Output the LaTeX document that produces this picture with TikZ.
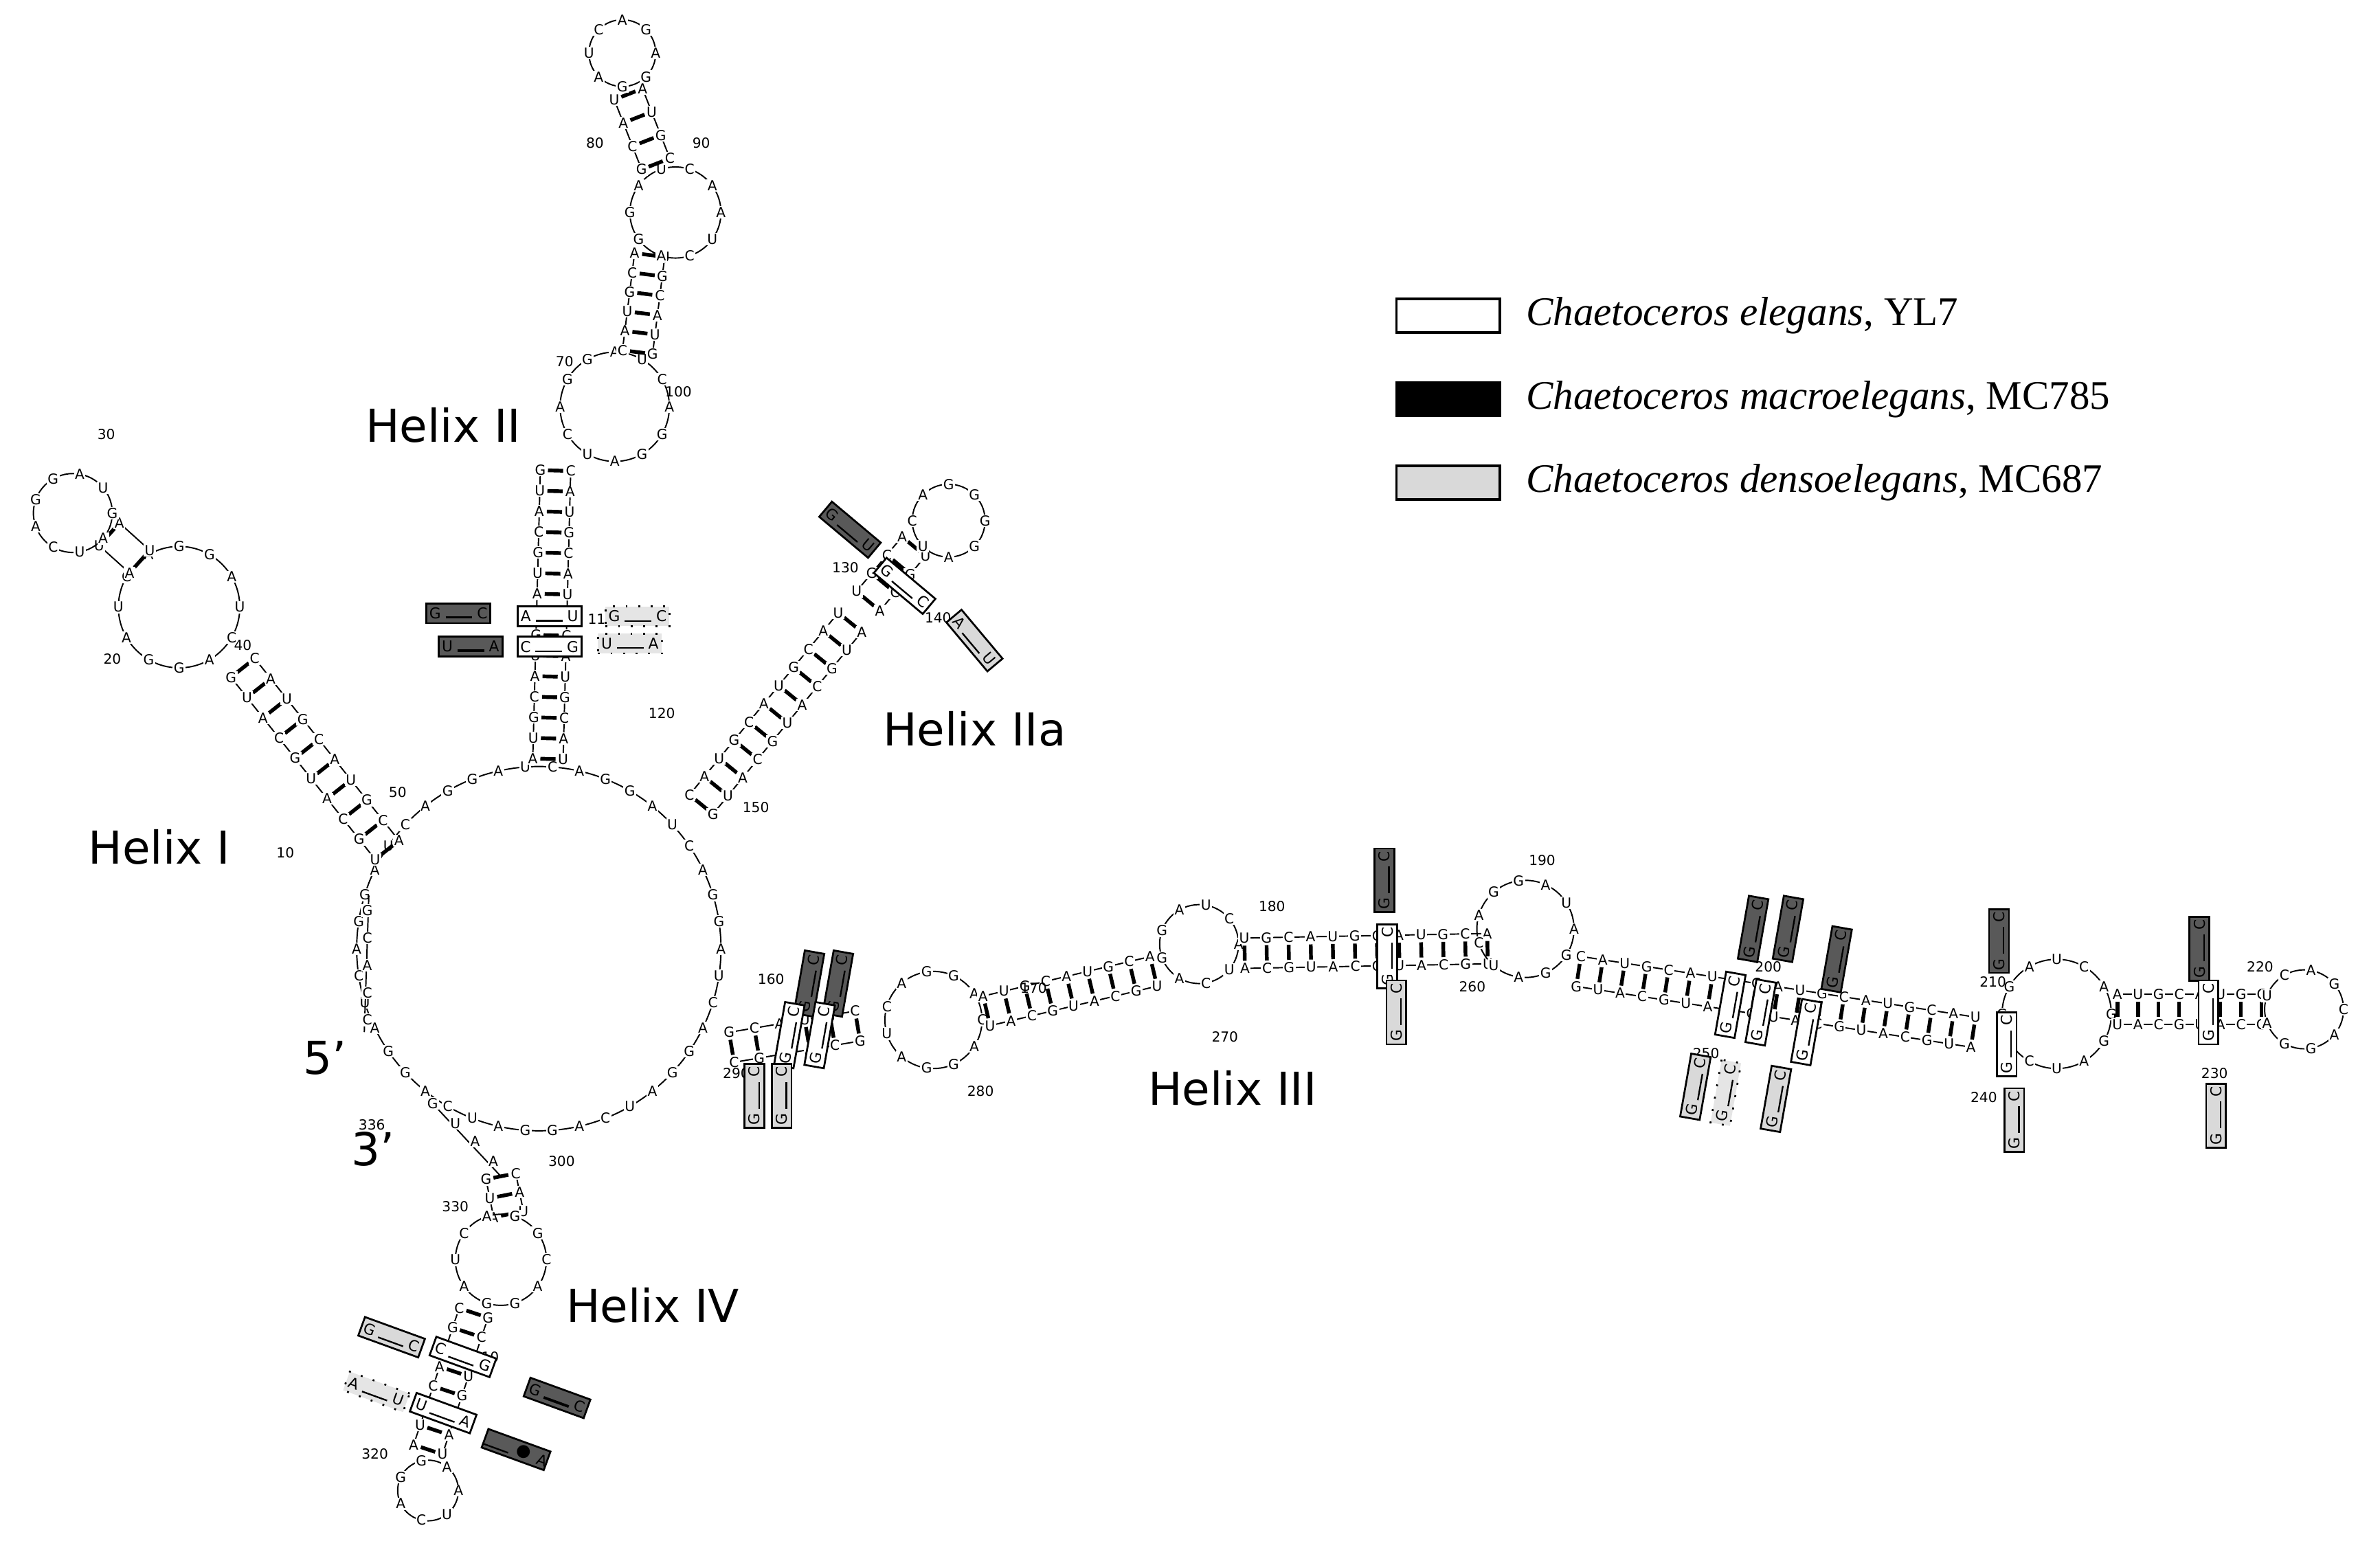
\documentclass[tikz,border=0pt]{standalone}
\usepackage{fontspec}
\setmainfont{Liberation Serif}
\newfontfamily\sansf{DejaVu Sans}
\usetikzlibrary{calc}
\tikzset{
 nt/.style={font=\sansf\fontsize{2.6}{2.6}\selectfont,fill=white,inner sep=0.2pt},
 bb/.style={line width=0.25pt},
 rung/.style={line width=0.7pt},
 num/.style={font=\sansf\fontsize{2.6}{3}\selectfont,inner sep=0.5pt},
 hx/.style={font=\sansf\fontsize{8.5}{9}\selectfont},
 box/.style={draw,line width=0.35pt,minimum width=0.42cm,minimum height=0.13cm,inner sep=0pt,font=\sansf\fontsize{2.8}{3}\selectfont},
 dk/.style={box,fill=black!65},
 lt/.style={box,fill=black!15},
 wt/.style={box,fill=white},
 dt/.style={box,fill=black!10,dotted},
 leg/.style={font=\fontsize{7.6}{9}\selectfont,anchor=west}
}
% stem: x1 y1 x2 y2 n seed
\newcommand\stem[6]{%
 \pgfmathsetmacro\sdx{#3-#1}\pgfmathsetmacro\sdy{#4-#2}%
 \pgfmathsetmacro\slen{veclen(\sdx,\sdy)}%
 \pgfmathsetmacro\snx{-\sdy/\slen*10}\pgfmathsetmacro\sny{\sdx/\slen*10}%
 \draw[bb] (#1+\snx,#2+\sny) -- (#3+\snx,#4+\sny);
 \draw[bb] (#1-\snx,#2-\sny) -- (#3-\snx,#4-\sny);
 \foreach \i in {0,...,#5}{
  \pgfmathsetmacro\px{#1+\i/#5*\sdx}\pgfmathsetmacro\py{#2+\i/#5*\sdy}
  \draw[rung] (\px+0.5*\snx,\py+0.5*\sny) -- (\px-0.5*\snx,\py-0.5*\sny);
  \pgfmathparse{{"A","U","G","C"}[mod(\i*3+#6,4)]}\let\la\pgfmathresult
  \pgfmathparse{{"U","A","C","G"}[mod(\i*3+#6,4)]}\let\lb\pgfmathresult
  \node[nt] at (\px+\snx,\py+\sny) {\la};
  \node[nt] at (\px-\snx,\py-\sny) {\lb};
 }}
% ring: cx cy r n seed
\newcommand\ring[5]{%
 \draw[bb] (#1,#2) circle[radius=#3*0.01cm];
 \foreach \i in {1,...,#4}{
  \pgfmathparse{{"G","A","U","C","A","G"}[mod(\i*5+#5,6)]}\let\la\pgfmathresult
  \node[nt] at ($(#1,#2)+(\i*360/#4:#3*0.01cm)$) {\la};
 }}
\begin{document}
\begin{tikzpicture}[x=0.01cm,y=-0.01cm]
\useasboundingbox (0,0) rectangle (1568,1021);
% main loop
\ring{355}{625}{120}{42}{1}
% 5' and 3' tails
\draw[bb] (243,590) -- (240,680);
\foreach \y/\l in {600/G,618/C,636/A,654/C,672/C}{\node[nt] at (242,\y) {\l};}
\draw[bb] (285,727) -- (330,775);
\foreach \x/\y/\l in {285/727/G,300/740/U,313/752/A,325/765/A}{\node[nt] at (\x,\y) {\l};}
% Helix I
\stem{255}{560}{160}{440}{9}{0}
\ring{118}{400}{40}{12}{2}
\stem{92}{370}{72}{352}{1}{1}
\ring{48}{338}{26}{9}{3}
% Helix II
\stem{361}{500}{366}{310}{14}{1}
\ring{405}{268}{36}{12}{4}
\stem{420}{232}{428}{168}{5}{2}
\ring{445}{140}{30}{10}{5}
\stem{432}{108}{414}{62}{3}{3}
\ring{410}{35}{22}{8}{0}
% Helix IIa
\stem{462}{530}{560}{410}{10}{2}
\stem{572}{396}{602}{360}{3}{0}
\ring{625}{343}{24}{8}{1}
% Helix III
\stem{482}{690}{565}{676}{5}{3}
\ring{615}{672}{32}{11}{2}
\stem{650}{666}{760}{640}{8}{1}
\ring{790}{622}{26}{9}{4}
\stem{820}{628}{980}{625}{11}{0}
\ring{1005}{612}{32}{11}{3}
\stem{1040}{640}{1300}{680}{18}{2}
\ring{1355}{668}{36}{12}{5}
\stem{1395}{665}{1490}{665}{7}{1}
\ring{1518}{665}{26}{9}{0}
% Helix IV
\stem{330}{775}{335}{800}{2}{2}
\ring{330}{830}{30}{10}{1}
\stem{312}{865}{282}{955}{7}{3}
\ring{282}{982}{20}{7}{2}
% numbers
\foreach \x/\y/\t in {188/562/10,74/434/20,70/286/30,160/425/40,262/522/50,372/238/70,392/94/80,462/94/90,447/258/100,396/408/110,436/470/120,557/374/130,618/407/140,498/532/150,508/645/160,681/651/170,838/597/180,1016/567/190,1165/637/200,1313/647/210,1489/637/220,1459/707/230,1307/723/240,1124/694/250,970/650/260,807/683/270,646/719/280,485/707/290,370/765/300,320/894/310,247/958/320,300/795/330,245/741/336}{\node[num] at (\x,\y) {\t};}
% highlight boxes
\node[dk] at (302,404) {G \rule{5pt}{0.5pt} C};
\node[dk] at (310,426) {U \rule{5pt}{0.5pt} A};
\node[wt] at (362,406) {A \rule{5pt}{0.3pt} U};
\node[wt] at (362,426) {C \rule{5pt}{0.3pt} G};
\node[dt] at (420,406) {G \rule{5pt}{0.3pt} C};
\node[dt] at (415,424) {U \rule{5pt}{0.3pt} A};
\node[dk,rotate=-40] at (560,349) {G \rule{5pt}{0.3pt} U};
\node[wt,rotate=-40] at (596,386) {G \rule{5pt}{0.3pt} C};
\node[lt,rotate=-50] at (642,422) {A \rule{5pt}{0.3pt} U};
\foreach \x/\y/\s/\r in {533/648/dk/80,552/648/dk/80,520/682/wt/80,540/682/wt/80,497/722/lt/90,515/722/lt/90,
 912/580/dk/90,914/630/wt/90,920/667/lt/90,1155/612/dk/80,1178/612/dk/80,1210/632/dk/80,1140/662/wt/80,1160/667/wt/80,1190/680/wt/80,
 1117/716/lt/80,1137/720/dt/80,1170/724/lt/80,1317/620/dk/90,1322/688/wt/90,1327/738/lt/90,1449/625/dk/90,1455/667/wt/90,1460/735/lt/90}
 {\node[\s,rotate=\r] at (\x,\y) {G \rule{5pt}{0.3pt} C};}
\node[lt,rotate=-20] at (258,881) {G \rule{5pt}{0.3pt} C};
\node[wt,rotate=-20] at (305,894) {C \rule{5pt}{0.3pt} G};
\node[dk,rotate=-20] at (367,921) {G \rule{5pt}{0.5pt} C};
\node[dt,rotate=-20] at (248,917) {A \rule{5pt}{0.3pt} U};
\node[wt,rotate=-20] at (292,931) {U \rule{5pt}{0.3pt} A};
\node[dk,rotate=-20] at (340,955) {\rule{5pt}{0.3pt} $\bullet$ A};
% labels
\node[hx] at (292,280) {Helix II};
\node[hx] at (105,558) {Helix I};
\node[hx] at (642,480) {Helix IIa};
\node[hx] at (812,717) {Helix III};
\node[hx] at (430,860) {Helix IV};
\node[hx] at (214,697) {5’};
\node[hx] at (246,757) {3’};
% legend
\draw[line width=0.5pt,fill=white] (920,197) rectangle (988,219);
\draw[line width=0.5pt,fill=black] (920,252) rectangle (988,274);
\draw[line width=0.5pt,fill=black!15] (920,307) rectangle (988,329);
\node[leg] at (993,208) {\textit{Chaetoceros elegans}, YL7};
\node[leg] at (993,263) {\textit{Chaetoceros macroelegans}, MC785};
\node[leg] at (993,318) {\textit{Chaetoceros densoelegans}, MC687};
\end{tikzpicture}
\end{document}
